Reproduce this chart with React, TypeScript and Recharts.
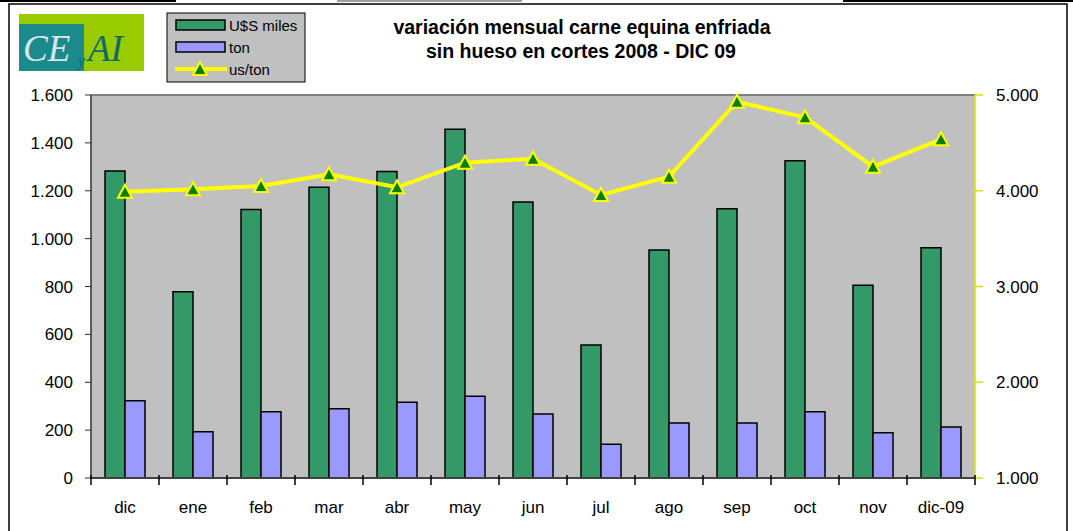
import {
  ComposedChart,
  Bar,
  Line,
  XAxis,
  YAxis,
  CartesianGrid,
  ReferenceLine,
} from "recharts";

// months on the category axis
const months = ["dic", "ene", "feb", "mar", "abr", "may", "jun", "jul", "ago", "sep", "oct", "nov", "dic-09"];
// U$S miles (left axis)
const usdMiles = [1282, 778, 1122, 1215, 1280, 1457, 1153, 556, 952, 1125, 1325, 805, 962];
// ton (left axis)
const tons = [323, 193, 277, 289, 316, 341, 267, 141, 230, 230, 277, 189, 213];
// us/ton (right axis)
const usPerTon = [3990, 4015, 4050, 4172, 4036, 4293, 4335, 3956, 4147, 4930, 4767, 4251, 4537];

const leftTicks = [0, 200, 400, 600, 800, 1000, 1200, 1400, 1600];
const rightTicks = [1000, 2000, 3000, 4000, 5000];

const chartData = months.map((m, i) => ({
  month: m,
  usd: usdMiles[i],
  ton: tons[i],
  ust: usPerTon[i],
}));

const fmt = (v: number) => String(v).replace(/\B(?=(\d{3})+(?!\d))/g, ".");

const FONT = "'Liberation Sans', Arial, sans-serif";
const X_LABEL_GAP = 23;

const TriangleDot = (props: any) => {
  const { cx, cy } = props;
  if (cx == null || cy == null) return null;
  return (
    <polygon
      points={`${cx},${cy - 7} ${cx - 7},${cy + 6} ${cx + 7},${cy + 6}`}
      fill="#008000"
      stroke="#ffff00"
      strokeWidth={2}
    />
  );
};

// category label plus excel-style tick marks on the category boundaries
const MonthTick = (props: any) => {
  const { x, y, payload, index } = props;
  const half = payload.offset;
  const axisY = y - X_LABEL_GAP;
  const isLast = index === months.length - 1;
  let d = `M${x - half},${axisY - 3}V${axisY + 7}`;
  if (isLast) d += `M${x + half},${axisY - 3}V${axisY + 7}`;
  return (
    <g>
      <path d={d} stroke="#000" strokeWidth={1.5} fill="none" />
      <text x={x} y={y + 12} textAnchor="middle" fontSize={17} fill="#000">
        {payload.value}
      </text>
    </g>
  );
};

function Overlay() {
  return (
    <svg
      width={1073}
      height={531}
      style={{ position: "absolute", left: 0, top: 0, pointerEvents: "none", fontFamily: FONT }}
    >
      {/* page artefacts at the top edge */}
      <rect x={0} y={0} width={176} height={2} fill="#000" />
      <rect x={337} y={0} width={185} height={2} fill="#a0a0a0" />
      <rect x={843} y={0} width={230} height={2} fill="#000" />
      {/* frame */}
      <rect x={9} y={4} width={1058} height={540} fill="none" stroke="#000" strokeWidth={1.5} />

      {/* logo */}
      <rect x={19} y={14} width={125} height={57} fill="#99cc00" />
      <rect x={19} y={24} width={65} height={47} fill="#1a8a8a" />
      <text x={23} y={61} fontFamily="'Liberation Serif', serif" fontStyle="italic" fontSize={37} fill="#d8e4f0">
        CE
      </text>
      <text x={78} y={66} fontFamily="'Liberation Serif', serif" fontStyle="italic" fontSize={16} fill="#106a6a">
        y
      </text>
      <text x={88} y={61} fontFamily="'Liberation Serif', serif" fontStyle="italic" fontSize={37} fill="#106a6a">
        AI
      </text>

      {/* legend */}
      <rect x={167} y={13} width={138} height={69} fill="#c0c0c0" stroke="#000" strokeWidth={1} />
      <rect x={176} y={20} width={49} height={10} fill="#339966" stroke="#000" strokeWidth={1.5} />
      <text x={229} y={31} fontSize={15} fill="#000">U$S miles</text>
      <rect x={176} y={42} width={49} height={10} fill="#9999ff" stroke="#000" strokeWidth={1.5} />
      <text x={229} y={53} fontSize={15} fill="#000">ton</text>
      <line x1={175} y1={69} x2={227} y2={69} stroke="#ffff00" strokeWidth={4} />
      <TriangleDot cx={200} cy={69} />
      <text x={229} y={75} fontSize={15} fill="#000">us/ton</text>

      {/* title */}
      <text x={582} y={34} textAnchor="middle" fontSize={19.5} fontWeight="bold" fill="#000">
        variación mensual carne equina enfriada
      </text>
      <text x={581} y={58} textAnchor="middle" fontSize={19.5} fontWeight="bold" fill="#000">
        sin hueso en cortes 2008 - DIC 09
      </text>
    </svg>
  );
}

export default function App() {
  return (
    <div style={{ position: "absolute", left: 0, top: 0, width: 1073, height: 531, background: "#fff", fontFamily: FONT }}>
      <ComposedChart
        width={1073}
        height={531}
        data={chartData}
        margin={{ top: 95, right: 0, bottom: 0, left: 0 }}
        barGap={0}
      >
        <CartesianGrid fill="#c0c0c0" horizontal={false} vertical={false} yAxisId="left" />
        <XAxis
          dataKey="month"
          height={53}
          axisLine={{ stroke: "#404040", strokeWidth: 2 }}
          tickLine={false}
          tickSize={0}
          tickMargin={X_LABEL_GAP}
          interval={0}
          tick={<MonthTick />}
        />
        <YAxis
          yAxisId="left"
          width={91}
          domain={[0, 1600]}
          ticks={leftTicks}
          tickFormatter={fmt}
          tickSize={6}
          tickMargin={12}
          axisLine={{ stroke: "#303030", strokeWidth: 1.5 }}
          tickLine={{ stroke: "#303030" }}
          tick={{ fill: "#000", fontSize: 17 }}
        />
        <YAxis
          yAxisId="right"
          orientation="right"
          width={98}
          domain={[1000, 5000]}
          ticks={rightTicks}
          tickFormatter={fmt}
          tickSize={8}
          tickMargin={13}
          axisLine={{ stroke: "#e0e000", strokeWidth: 1.5 }}
          tickLine={{ stroke: "#e0e000", strokeWidth: 1.5 }}
          tick={{ fill: "#000", fontSize: 17 }}
        />
        <ReferenceLine yAxisId="left" y={1600} stroke="#808080" strokeWidth={2} />
        <Bar
          yAxisId="left"
          dataKey="usd"
          barSize={20}
          fill="#339966"
          stroke="#000"
          strokeWidth={1.5}
          isAnimationActive={false}
        />
        <Bar
          yAxisId="left"
          dataKey="ton"
          barSize={20}
          fill="#9999ff"
          stroke="#000"
          strokeWidth={1.5}
          isAnimationActive={false}
        />
        <Line
          yAxisId="right"
          dataKey="ust"
          type="linear"
          stroke="#ffff00"
          strokeWidth={4}
          dot={<TriangleDot />}
          activeDot={false}
          isAnimationActive={false}
        />
      </ComposedChart>
      <Overlay />
    </div>
  );
}
